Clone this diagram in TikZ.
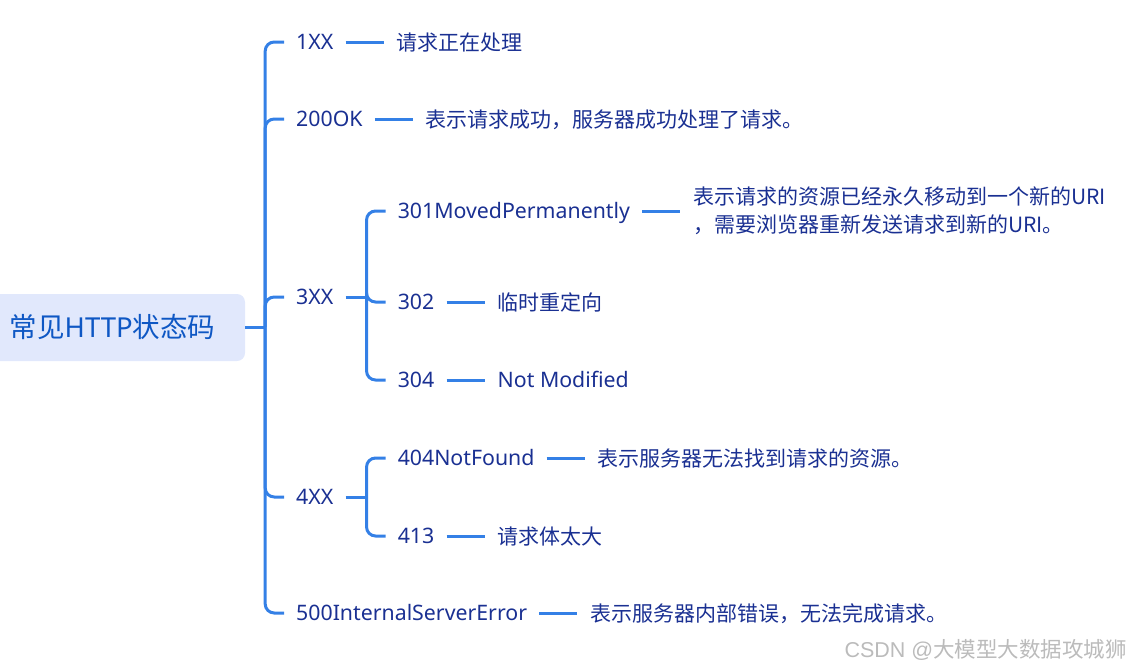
\documentclass[tikz,border=0pt]{standalone}
\usepackage{fontspec}
\setmainfont{Noto Sans}
\newfontfamily\cjk{Noto Sans CJK SC}
\newfontfamily\arialf{Liberation Sans}
\usetikzlibrary{positioning,calc}
\definecolor{linec}{HTML}{3480E6}
\definecolor{txt}{HTML}{1A3092}
\definecolor{roottxt}{HTML}{0E57C4}
\definecolor{rootfill}{HTML}{E1E8FC}
\definecolor{wmc}{HTML}{BBBBBB}
\begin{document}
\begin{tikzpicture}[x=1pt,y=-1pt,
  conn/.style={draw=linec, line width=3pt, rounded corners=9pt},
  lab/.style={inner xsep=12pt, inner ysep=0pt, anchor=west, text=txt,
    font=\fontsize{21.3}{25}\selectfont, text height=15.2pt, text depth=0pt},
  leaf/.style={inner xsep=13pt, inner ysep=0pt, anchor=west, text=txt,
    font=\cjk\fontsize{21}{28}\selectfont, text height=16pt, text depth=0pt},
  leafml/.style={inner xsep=13pt, inner ysep=0pt, anchor=west, text=txt,
    font=\cjk\fontsize{21}{28}\selectfont, align=left},
  rootbox/.style={fill=rootfill, rounded corners=8pt, minimum width=265pt,
    minimum height=67pt, inner sep=0pt, text=roottxt,
    font=\fontsize{27.5}{31}\selectfont, text height=20.5pt, text depth=0pt},
]
\useasboundingbox (0,0) rectangle (1129,670);

% root
\node[rootbox] (root) at (112.5,327.5) {{\cjk 常见}HTTP{\cjk 状态码}};

% top-level labels
\node[lab] (l1) at (284,42)  {1XX};
\node[lab] (l2) at (284,119) {200OK};
\node[lab] (l3) at (284,297) {3XX};
\node[lab] (l4) at (284,497) {4XX};
\node[lab] (l5) at (284,613) {500InternalServerError};

% spine
\draw[conn] (root.east) -- ++(20,0) coordinate (sp);
\foreach \n in {l1,l2,l3,l4,l5} \draw[conn] (sp) |- (\n.west);

% leaves of top level
\node[leaf, right=38pt of l1] (e1) {请求正在处理};
\node[leaf, right=38pt of l2] (e2) {表示请求成功，服务器成功处理了请求。};
\node[leaf, right=38pt of l5] (e5) {表示服务器内部错误，无法完成请求。};
\draw[conn] (l1.east) -- (e1.west);
\draw[conn] (l2.east) -- (e2.west);
\draw[conn] (l5.east) -- (e5.west);

% 3XX subtree
\draw[conn] (l3.east) -- ++(21,0) coordinate (s3);
\node[lab] (l31) at ($(s3)+(19,211-297)$) {301MovedPermanently};
\node[lab] (l32) at ($(s3)+(19,302-297)$) {302};
\node[lab] (l33) at ($(s3)+(19,380-297)$) {304};
\foreach \n in {l31,l32,l33} \draw[conn] (s3) |- (\n.west);
\node[leafml, right=38pt of l31] (e31) {表示请求的资源已经永久移动到一个新的URI\\，需要浏览器重新发送请求到新的URI。};
\node[leaf, right=38pt of l32] (e32) {临时重定向};
\node[lab, inner xsep=13pt, right=38pt of l33] (e33) {Not Modified};
\draw[conn] (l31.east) -- (e31.west);
\draw[conn] (l32.east) -- (e32.west);
\draw[conn] (l33.east) -- (e33.west);

% 4XX subtree
\draw[conn] (l4.east) -- ++(21,0) coordinate (s4);
\node[lab] (l41) at ($(s4)+(19,458-497)$) {404NotFound};
\node[lab] (l42) at ($(s4)+(19,536-497)$) {413};
\foreach \n in {l41,l42} \draw[conn] (s4) |- (\n.west);
\node[leaf, right=38pt of l41] (e41) {表示服务器无法找到请求的资源。};
\node[leaf, right=38pt of l42] (e42) {请求体太大};
\draw[conn] (l41.east) -- (e41.west);
\draw[conn] (l42.east) -- (e42.west);

% watermark
\node[anchor=east, text=wmc, inner sep=0pt, font=\fontsize{21.5}{24}\selectfont] (wm) at (1127,650)
  {{\arialf CSDN @}{\cjk 大模型大数据攻城狮}};
\end{tikzpicture}
\end{document}
